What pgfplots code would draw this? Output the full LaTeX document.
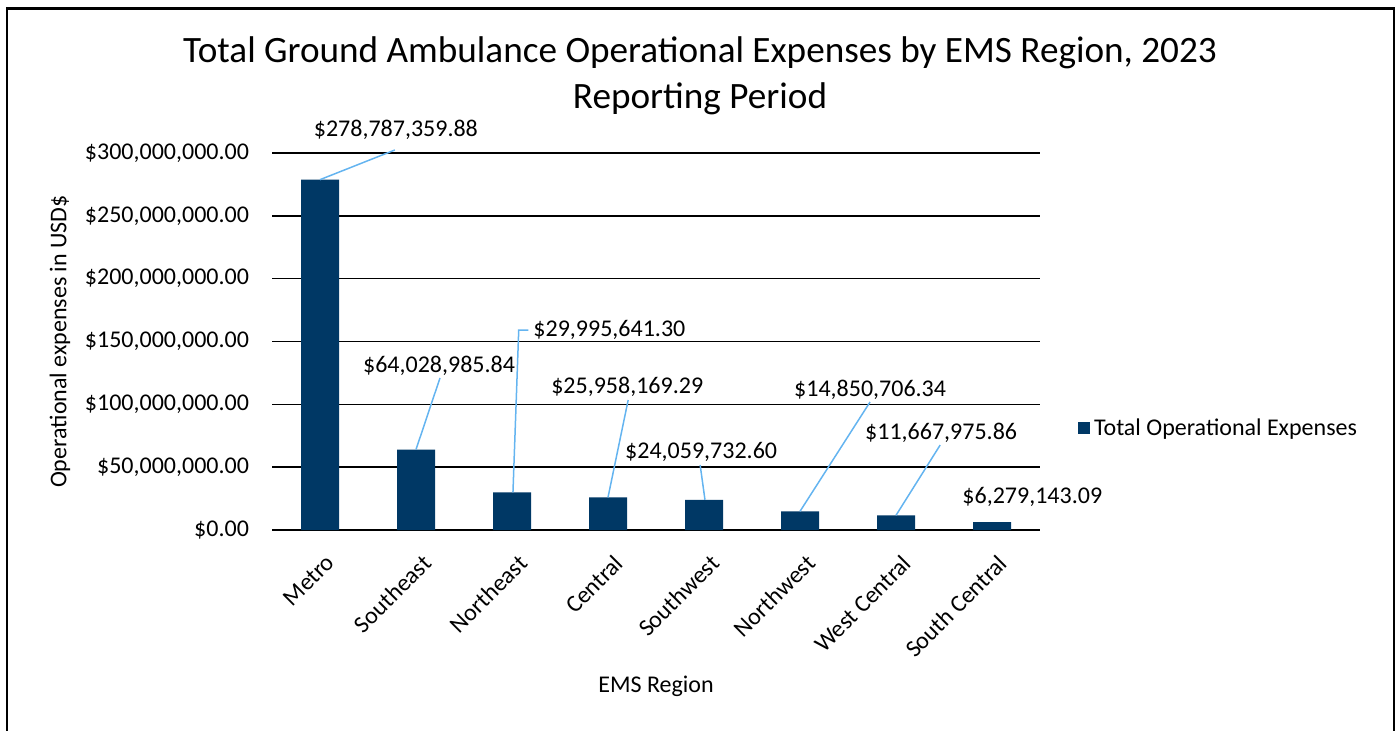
\documentclass[border=0pt]{standalone}
\usepackage{pgfplots}
\pgfplotsset{compat=1.18}
\usepackage{fontspec}
\setmainfont{Carlito}
\definecolor{navy}{RGB}{0,56,101}
\definecolor{leader}{RGB}{100,180,240}

\pgfplotstableread{
idx value
0 278787359.88
1 64028985.84
2 29995641.30
3 25958169.29
4 24059732.60
5 14850706.34
6 11667975.86
7 6279143.09
}\expenses

\begin{document}
\begin{tikzpicture}
% image is 1396x731 px, 1 px = 0.5pt, origin top left
\useasboundingbox (0,0) rectangle (698pt,-365.5pt);
\draw[line width=1.25pt] (3.5pt,-370pt) -- (3.5pt,-4.2pt) -- (697pt,-4.2pt) -- (697pt,-370pt);
\node[font=\fontsize{18.6}{23}\selectfont, align=center] at (350pt,-38pt)
  {Total Ground Ambulance Operational Expenses by EMS Region, 2023\\Reporting Period};

\begin{axis}[
    at={(136pt,-265pt)}, anchor=south west,
    scale only axis, width=384pt, height=188.5pt,
    xmin=-0.5, xmax=7.5, ymin=0, ymax=300000000,
    clip=false,
    axis line style={draw=none},
    tick style={draw=none},
    ymajorgrids, grid style={black, line width=0.75pt},
    scaled y ticks=false,
    ytick={0,50000000,100000000,150000000,200000000,250000000,300000000},
    yticklabels={\$0.00,{\$50,000,000.00},{\$100,000,000.00},{\$150,000,000.00},{\$200,000,000.00},{\$250,000,000.00},{\$300,000,000.00}},
    xtick=data,
    xticklabels={Metro,Southeast,Northeast,Central,Southwest,Northwest,West Central,South Central},
    ticklabel style={font=\fontsize{12}{14}\selectfont},
    yticklabel style={xshift=-8pt},
    xticklabel style={rotate=45, anchor=north east, xshift=-3pt, yshift=-6.5pt},
    xlabel={EMS Region},
    ylabel={Operational expenses in USD\$},
    label style={font=\fontsize{12}{14}\selectfont},
    xlabel style={at={(axis description cs:0.5,-0.414)}, anchor=center},
    ylabel style={at={(axis description cs:-0.276,0.5)}, anchor=center},
    legend style={at={(axis description cs:1.049,0.27)}, anchor=west, draw=none,
        font=\fontsize{12}{14}\selectfont, inner sep=0pt},
    legend image code/.code={\fill[navy] (0pt,-3pt) rectangle (6pt,3pt);},
]
\addplot[ybar, bar width=19pt, fill=navy, draw=none] table[x=idx, y=value] {\expenses};
\addlegendentry{Total Operational Expenses}

\begin{scope}[leader, line width=0.75pt]
\draw (axis cs:0,278787359.88) -- (axis cs:0.78,302400000);
\draw (axis cs:1,64028985.84) -- (axis cs:1.25,121000000);
\draw (axis cs:2.01,29995641.30) -- (axis cs:2.07,159000000) -- (axis cs:2.17,159000000);
\draw (axis cs:3,25958169.29) -- (axis cs:3.21,103400000);
\draw (axis cs:4.01,24059732.60) -- (axis cs:3.96,51700000);
\draw (axis cs:5,14850706.34) -- (axis cs:5.73,101900000);
\draw (axis cs:6,11667975.86) -- (axis cs:6.46,67600000);
\end{scope}
\begin{scope}[every node/.style={font=\fontsize{12}{14}\selectfont}]
\node at (axis cs:0.79,318300000) {\$278,787,359.88};
\node at (axis cs:1.24,130500000) {\$64,028,985.84};
\node[anchor=west] at (axis cs:2.15,159000000) {\$29,995,641.30};
\node at (axis cs:3.2,113800000) {\$25,958,169.29};
\node at (axis cs:3.97,62000000) {\$24,059,732.60};
\node at (axis cs:5.73,111400000) {\$14,850,706.34};
\node at (axis cs:6.47,77200000) {\$11,667,975.86};
\node at (axis cs:7.42,26300000) {\$6,279,143.09};
\end{scope}
\end{axis}
\end{tikzpicture}
\end{document}
